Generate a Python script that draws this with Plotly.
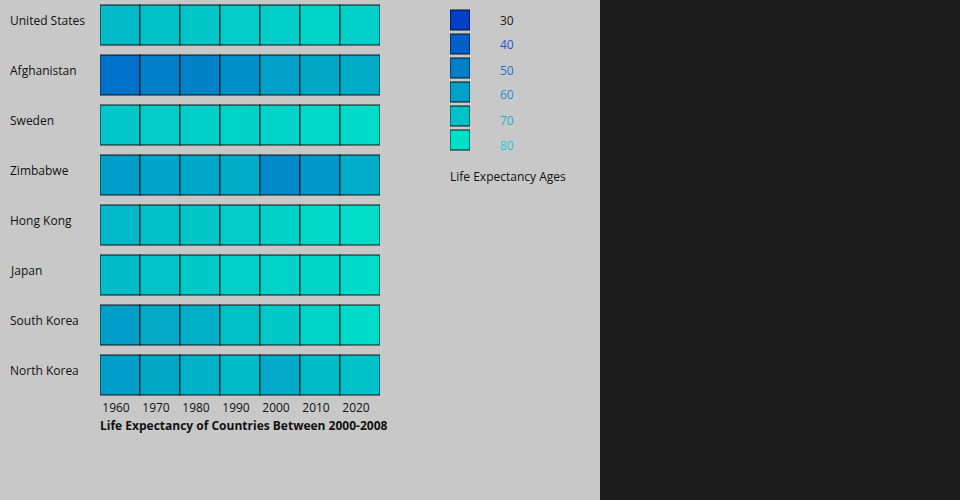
# Life expectancy grid: countries x decades, coloured by age
import plotly.graph_objects as go

# data
countries = ['United States', 'Afghanistan', 'Sweden', 'Zimbabwe',
             'Hong Kong', 'Japan', 'South Korea', 'North Korea']
years = ['1960', '1970', '1980', '1990', '2000', '2010', '2020']

united_states = [68.1, 70.6, 71.9, 73.8, 74.4, 76.3, 75.0]
afghanistan = [45.0, 50.0, 50.5, 55.0, 60.0, 62.5, 63.5]
sweden = [72.5, 73.8, 74.4, 75.6, 76.3, 77.5, 78.1]
zimbabwe = [59.4, 61.3, 61.9, 63.4, 52.5, 57.5, 63.8]
hong_kong = [67.5, 70.0, 71.9, 73.8, 75.6, 77.5, 78.8]
japan = [68.8, 71.3, 73.1, 75.0, 75.6, 76.9, 78.1]
south_korea = [59.4, 63.1, 65.0, 70.0, 73.1, 76.3, 78.1]
north_korea = [59.4, 62.5, 65.6, 68.8, 63.1, 68.8, 70.6]

legend_ages = [30, 40, 50, 60, 70, 80]

rows = [united_states, afghanistan, sweden, zimbabwe,
        hong_kong, japan, south_korea, north_korea]

#flatten the grid for a single scatter of square markers
xs, ys, zs = [], [], []
for country, vals in zip(countries, rows):
    for yr, v in zip(years, vals):
        xs.append(yr)
        ys.append(country)
        zs.append(v)

scale = [[0, '#0040c8'], [1, '#00e0c8']]
border = dict(color='rgba(0,0,0,0.6)', width=1.5)
label_colors = ['#1a1a1a', '#2255cc', '#2070d0', '#2090d0', '#20b0d0', '#20c8d0']

W, H = 960, 500
fig = go.Figure()

fig.add_trace(go.Scatter(
    x=xs, y=ys, mode='markers',
    marker=dict(symbol='square', size=40, color=zs, colorscale=scale,
                cmin=30, cmax=80, line=border),
    hoverinfo='skip', showlegend=False
))

#legend swatches
fig.add_trace(go.Scatter(
    x=[0] * len(legend_ages), y=list(range(len(legend_ages))),
    xaxis='x2', yaxis='y2', mode='markers',
    marker=dict(symbol='square', size=20, color=legend_ages, colorscale=scale,
                cmin=30, cmax=80, line=border),
    hoverinfo='skip', showlegend=False
))

annotations = []
for c in countries:
    annotations.append(dict(text=c, x=8 / W, xref='paper', y=c, yref='y',
                            xanchor='left', yanchor='middle', yshift=5,
                            showarrow=False, font=dict(size=12, color='#111')))
for i, (age, col) in enumerate(zip(legend_ages, label_colors)):
    annotations.append(dict(text=str(age), x=498 / W, xref='paper',
                            y=1 - (20 + 25 * i) / H, yref='paper',
                            xanchor='left', yanchor='middle', showarrow=False,
                            font=dict(size=12, color=col)))
annotations.append(dict(text='Life Expectancy Ages', x=448 / W, xref='paper',
                        y=1 - 176 / H, yref='paper', xanchor='left',
                        yanchor='middle', showarrow=False,
                        font=dict(size=12, color='#111')))
annotations.append(dict(text='<b>Life Expectancy of Countries Between 2000-2008</b>',
                        x=98 / W, xref='paper', y=1 - 425 / H, yref='paper',
                        xanchor='left', yanchor='middle', showarrow=False,
                        font=dict(size=12, color='#111')))

fig.update_layout(
    width=W, height=H,
    margin=dict(l=0, r=0, t=0, b=0),
    paper_bgcolor='#1c1c1c',
    plot_bgcolor='rgba(0,0,0,0)',
    font=dict(family='Open Sans', size=12, color='#111'),
    shapes=[dict(type='rect', xref='paper', yref='paper', x0=0, x1=600 / W,
                 y0=0, y1=1, fillcolor='#c8c8c8', line_width=0, layer='below')],
    annotations=annotations,
    hovermode=False,
    xaxis=dict(type='category', categoryorder='array', categoryarray=years,
               domain=[100 / W, 380 / W], range=[-0.5, 6.5],
               anchor='free', position=1 - 399 / H, ticklabelshift=-4,
               showgrid=False, zeroline=False, showline=False, ticks='',
               tickfont=dict(size=12, color='#111'), fixedrange=True),
    yaxis=dict(type='category', categoryorder='array', categoryarray=countries,
               domain=[0.2, 1.0], range=[7.5, -0.5], showgrid=False,
               zeroline=False, showticklabels=False, fixedrange=True),
    xaxis2=dict(domain=[450 / W, 470 / W], range=[-0.5, 0.5], visible=False,
                anchor='y2', fixedrange=True),
    yaxis2=dict(domain=[1 - 152 / H, 1 - 8 / H], range=[5.5, -0.5],
                visible=False, anchor='x2', fixedrange=True),
)

# drop the page's default body margin so the figure sits at the top left
fig.write_html("out.html", config={'displayModeBar': False},
               post_script="document.body.style.margin='0';")
